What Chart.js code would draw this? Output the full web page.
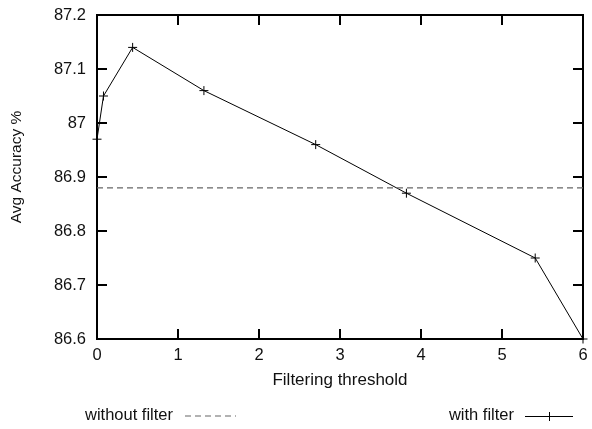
<!DOCTYPE html>
<html>
<head>
<meta charset="utf-8">
<script src="https://cdn.jsdelivr.net/npm/chart.js@4/dist/chart.umd.min.js"></script>
<style>
  html, body { margin: 0; padding: 0; background: #fff; }
  #wrap { width: 592px; height: 429px; position: relative; }
</style>
</head>
<body>
<div id="wrap"><canvas id="c" width="592" height="429"></canvas></div>
<script>
// ---- data ----
const thresholds = [0, 0.08, 0.44, 1.32, 2.70, 3.82, 5.41, 6.0];
const withFilter = [86.97, 87.05, 87.14, 87.06, 86.96, 86.87, 86.75, 86.60];
const withoutFilterValue = 86.88;
const xRange = [0, 6];
const xTickValues = [0, 1, 2, 3, 4, 5, 6];
const yTickValues = [86.6, 86.7, 86.8, 86.9, 87.0, 87.1, 87.2];
const xTitle = 'Filtering threshold';
const yTitle = 'Avg Accuracy %';
const seriesNames = ['without filter', 'with filter'];

const FONT = '"Liberation Sans", Arial, Helvetica, sans-serif';
const TEXT = '#111';

const withPts = thresholds.map((x, i) => ({ x: x, y: withFilter[i] }));
const withoutPts = xRange.map(x => ({ x: x, y: withoutFilterValue }));

const framePlugin = {
  id: 'frame',
  beforeDatasetsDraw(chart) {
    const { ctx, chartArea: a, scales } = chart;
    ctx.save();
    ctx.strokeStyle = '#000';
    ctx.lineWidth = 2;
    const L = 10;
    ctx.beginPath();
    xTickValues.forEach(v => {
      const p = Math.round(scales.x.getPixelForValue(v));
      if (p > a.left + 2 && p < a.right - 2) {
        ctx.moveTo(p, a.bottom); ctx.lineTo(p, a.bottom - L);
        ctx.moveTo(p, a.top); ctx.lineTo(p, a.top + L);
      }
    });
    yTickValues.forEach(v => {
      const p = Math.round(scales.y.getPixelForValue(v));
      if (p > a.top + 2 && p < a.bottom - 2) {
        ctx.moveTo(a.left, p); ctx.lineTo(a.left + L, p);
        ctx.moveTo(a.right, p); ctx.lineTo(a.right - L, p);
      }
    });
    ctx.stroke();
    ctx.strokeRect(Math.round(a.left), Math.round(a.top),
                   Math.round(a.right - a.left), Math.round(a.bottom - a.top));
    ctx.restore();
  },
  afterDraw(chart) {
    const { ctx } = chart;
    ctx.save();
    // y title
    ctx.fillStyle = TEXT;
    ctx.font = '15.5px ' + FONT;
    ctx.textAlign = 'center';
    ctx.textBaseline = 'middle';
    ctx.translate(17, 167);
    ctx.rotate(-Math.PI / 2);
    ctx.fillText(yTitle, 0, 0);
    ctx.restore();

    // legend
    ctx.save();
    ctx.font = '16.5px ' + FONT;
    ctx.fillStyle = TEXT;
    ctx.textBaseline = 'middle';
    const ly = 415;
    const lineY = 416;
    ctx.textAlign = 'right';
    ctx.fillText(seriesNames[0], 173, ly);
    ctx.strokeStyle = '#666';
    ctx.lineWidth = 1.2;
    ctx.setLineDash([6, 4]);
    ctx.beginPath(); ctx.moveTo(185, lineY); ctx.lineTo(236, lineY); ctx.stroke();
    ctx.setLineDash([]);
    ctx.fillText(seriesNames[1], 514, ly);
    ctx.strokeStyle = '#000';
    ctx.lineWidth = 1;
    ctx.beginPath(); ctx.moveTo(525, lineY + 0.5); ctx.lineTo(573, lineY + 0.5);
    ctx.moveTo(549.5, lineY - 4); ctx.lineTo(549.5, lineY + 5);
    ctx.stroke();
    ctx.restore();
  }
};

new Chart(document.getElementById('c'), {
  type: 'scatter',
  data: {
    datasets: [
      {
        label: seriesNames[0],
        data: withoutPts,
        showLine: true,
        borderColor: '#666',
        borderWidth: 1.2,
        borderDash: [6, 4],
        pointRadius: 0,
        clip: false
      },
      {
        label: seriesNames[1],
        data: withPts,
        showLine: true,
        borderColor: '#000',
        borderWidth: 1,
        pointStyle: 'cross',
        pointRadius: 4.5,
        pointBorderColor: '#000',
        pointBorderWidth: 1,
        backgroundColor: '#000',
        clip: false
      }
    ]
  },
  options: {
    responsive: false,
    animation: false,
    events: [],
    layout: { padding: { top: 15, right: 9, left: 0, bottom: 0 } },
    plugins: { legend: { display: false }, tooltip: { enabled: false } },
    scales: {
      x: {
        type: 'linear',
        min: xRange[0], max: xRange[1],
        afterFit(s) { s.height = 90; s.paddingLeft = 0; s.paddingRight = 0; },
        afterBuildTicks(s) { s.ticks = xTickValues.map(v => ({ value: v })); },
        grid: { display: false, drawTicks: false },
        border: { display: false },
        ticks: { padding: 7, color: TEXT, font: { family: FONT, size: 16.5 },
                 callback: v => String(v) },
        title: { display: true, text: xTitle, color: TEXT,
                 font: { family: FONT, size: 17 }, padding: { top: 0, bottom: 38 } }
      },
      y: {
        type: 'linear',
        min: 86.6, max: 87.2,
        afterFit(s) { s.width = 97; s.paddingTop = 0; s.paddingBottom = 0; },
        afterBuildTicks(s) { s.ticks = yTickValues.map(v => ({ value: v })); },
        grid: { display: false, drawTicks: false },
        border: { display: false },
        ticks: { padding: 11, color: TEXT, font: { family: FONT, size: 16.5 },
                 callback: v => String(Number(v.toFixed(1))) }
      }
    }
  },
  plugins: [framePlugin]
});
</script>
</body>
</html>
